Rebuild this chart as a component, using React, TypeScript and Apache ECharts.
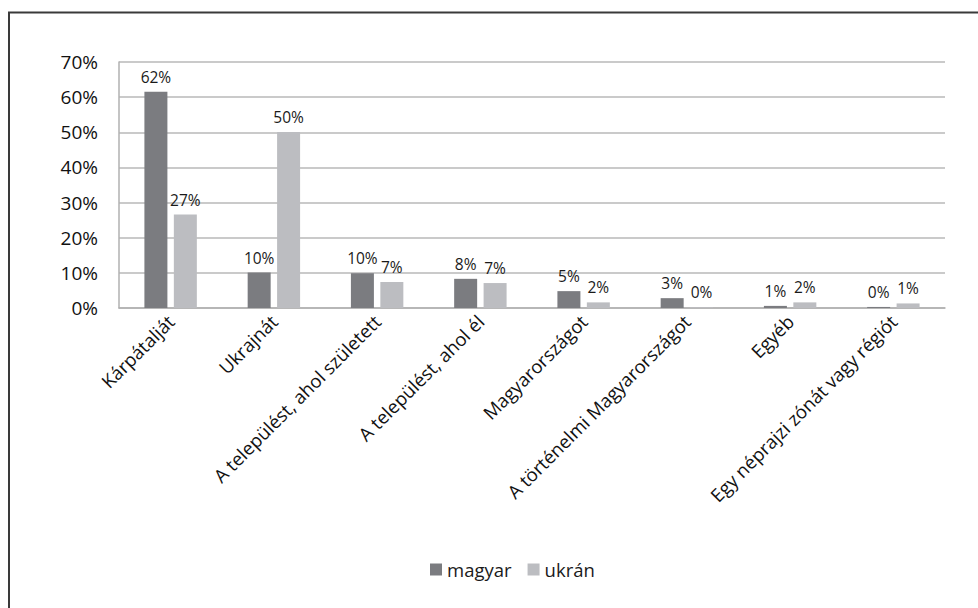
import React, { useEffect, useRef } from "react";
import * as echarts from "echarts";

const categories = [
  "Kárpátalját",
  "Ukrajnát",
  "A települést, ahol született",
  "A települést, ahol él",
  "Magyarországot",
  "A történelmi Magyarországot",
  "Egyéb",
  "Egy néprajzi zónát vagy régiót",
];
const magyar = [61.5, 10.1, 9.9, 8.3, 4.8, 2.8, 0.6, 0.3];
const ukran = [26.6, 50.1, 7.4, 7.1, 1.6, 0.2, 1.6, 1.3];
const seriesNames = ["magyar", "ukrán"];

const FONT = "'Open Sans', 'Noto Sans', sans-serif";

export default function App() {
  const ref = useRef<HTMLDivElement>(null);
  useEffect(() => {
    if (!ref.current) return;
    const chart = echarts.init(ref.current, null, { renderer: "svg" });
    const label = {
      show: true,
      position: "top" as const,
      distance: 7,
      fontFamily: FONT,
      fontSize: 15.5,
      color: "#1a1a1a",
      formatter: (p: any) => Math.round(p.value) + "%",
    };
    chart.setOption({
      animation: false,
      backgroundColor: "#ffffff",
      textStyle: { fontFamily: FONT },
      graphic: [
        {
          type: "rect",
          shape: { x: 9, y: 12.5, width: 1200, height: 1200 },
          style: { fill: "none", stroke: "#3a3a3a", lineWidth: 2 },
          silent: true,
          z: 100,
        },
      ],
      grid: { left: 119, top: 62, right: 33, bottom: 300, containLabel: false },
      legend: {
        left: 425,
        top: 555,
        itemWidth: 12,
        itemHeight: 12,
        itemGap: 16,
        icon: "rect",
        textStyle: { fontFamily: FONT, fontSize: 18.5, color: "#1a1a1a" },
        data: seriesNames,
      },
      xAxis: {
        type: "category",
        data: categories,
        axisLine: { show: true, lineStyle: { color: "#b0b0b0", width: 1.5 } },
        axisTick: { show: false },
        axisLabel: {
          interval: 0,
          rotate: 45,
          margin: 10,
          fontFamily: FONT,
          fontSize: 18.5,
          color: "#111",
        },
      },
      yAxis: {
        type: "value",
        min: 0,
        max: 70,
        interval: 10,
        axisLine: { show: true, lineStyle: { color: "#b0b0b0", width: 1.5 } },
        axisTick: { show: false },
        splitLine: { show: true, lineStyle: { color: "#b8b8b8", width: 1.5 } },
        axisLabel: {
          formatter: "{value}%",
          margin: 21,
          fontFamily: FONT,
          fontSize: 19,
          color: "#111",
        },
      },
      series: [
        {
          name: seriesNames[0],
          type: "bar",
          data: magyar,
          barWidth: 23,
          barGap: "28%",
          itemStyle: { color: "#7b7c80" },
          label,
        },
        {
          name: seriesNames[1],
          type: "bar",
          data: ukran,
          barWidth: 23,
          barGap: "28%",
          itemStyle: { color: "#bcbdc1" },
          label,
        },
      ],
    });
    return () => chart.dispose();
  }, []);
  return (
    <div
      ref={ref}
      style={{ position: "fixed", left: 0, top: 0, width: 978, height: 608 }}
    />
  );
}
